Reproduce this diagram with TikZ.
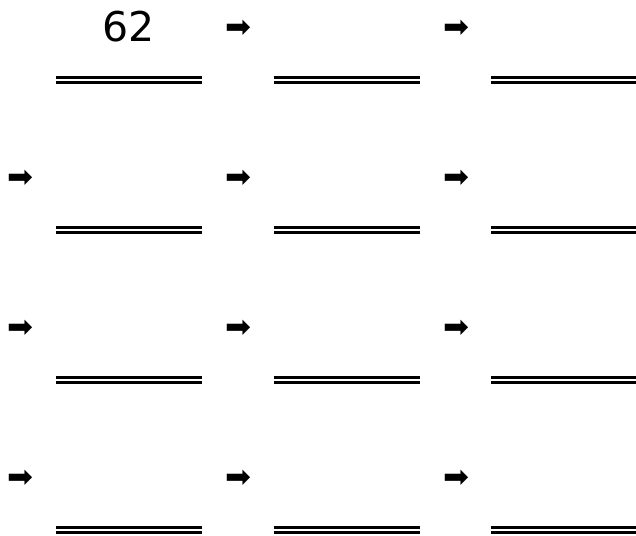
\documentclass[tikz,border=0pt]{standalone}
\usepackage{fontspec}
\setmainfont{DejaVu Sans}
\usepackage{tikz}
\newcommand{\nextarrow}{\fontsize{31}{31}\selectfont ➡}

\begin{document}
\begin{tikzpicture}[x=1pt,y=-1pt,every node/.style={inner sep=0pt},
	blank/.style={double,double distance=2pt,line width=3pt}]
	\useasboundingbox (0,0) rectangle (636,535);
	
	\node[font=\fontsize{41}{41}\selectfont] (start) at (129,27){62};
	%arrows
	\node (a12) at (238,29){\nextarrow};
	\node (a13) at (456,29){\nextarrow};
	\foreach \r in {2,3,4}
	\foreach \c in {1,2,3}
	\node (a\r\c) at (20+218*\c-218,29+150*\r-150){\nextarrow};
	%answer lines
	\foreach \r in {1,...,4}
	\foreach \c in {1,2,3}{
		\coordinate (l\r\c) at (56+217.5*\c-217.5,80+150*\r-150);
		\draw[blank] (l\r\c) -- +(146,0);
	}
\end{tikzpicture}
\end{document}
